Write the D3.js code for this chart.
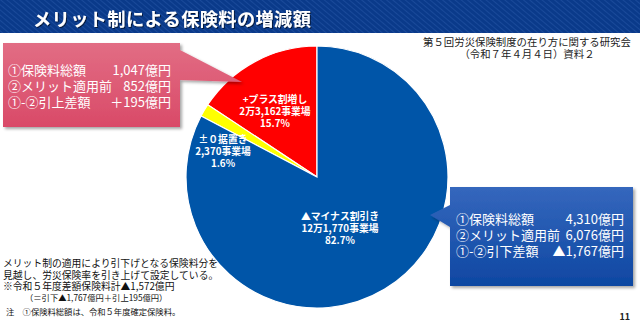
<!DOCTYPE html>
<html><head><meta charset="utf-8">
<script src="https://cdn.jsdelivr.net/npm/d3@7"></script>
<style>
html,body{margin:0;padding:0;background:#fff;}
svg{display:block;font-family:"Noto Sans CJK JP","Noto Sans",sans-serif;}
</style></head>
<body>
<script>
// ---- data ----
const categories = ["+プラス割増し", "±０据置き", "▲マイナス割引き"];
const counts = ["2万3,162事業場", "2,370事業場", "12万1,770事業場"];
const shares = [15.7, 1.6, 82.7];
const sliceColors = ["#ff0000", "#ffff00", "#0055a8"];
const title = "メリット制による保険料の増減額";
const source = ["第５回労災保険制度の在り方に関する研究会", "（令和７年４月４日）資料２"];
const plusLabels = ["①保険料総額", "②メリット適用前", "①-②引上差額"];
const plusValues = ["1,047億円", "852億円", "＋195億円"];
const minusLabels = ["①保険料総額", "②メリット適用前", "①-②引下差額"];
const minusValues = ["4,310億円", "6,076億円", "▲1,767億円"];
const notes = ["メリット制の適用により引下げとなる保険料分を", "見越し、労災保険率を引き上げて設定している。", "※令和５年度差額保険料計▲1,572億円"];
const subNote = "（＝引下▲1,767億円＋引上195億円）";
const footNote = "注　①保険料総額は、令和５年度確定保険料。";
const pageNo = "11";

const W = 640, H = 326;
const svg = d3.select("body").append("svg").attr("width", W).attr("height", H);
const defs = svg.append("defs");

// header pattern
const pat = defs.append("pattern").attr("id","hdr").attr("width",4).attr("height",4)
  .attr("patternUnits","userSpaceOnUse").attr("patternTransform","rotate(-50)");
pat.append("rect").attr("width",4).attr("height",4).attr("fill","#0a3a8a");
pat.append("rect").attr("width",1).attr("height",4).attr("fill","#1a4a9a");

const gRed = defs.append("linearGradient").attr("id","gRed").attr("x1",0).attr("y1",0).attr("x2",0).attr("y2",1);
gRed.append("stop").attr("offset","0%").attr("stop-color","#e26d84");
gRed.append("stop").attr("offset","100%").attr("stop-color","#d94a68");
const gBlue = defs.append("linearGradient").attr("id","gBlue").attr("x1",0).attr("y1",0).attr("x2",0).attr("y2",1);
gBlue.append("stop").attr("offset","0%").attr("stop-color","#3567bd");
gBlue.append("stop").attr("offset","100%").attr("stop-color","#0e47a2");
const sh = defs.append("filter").attr("id","sh").attr("x","-10%").attr("y","-10%").attr("width","130%").attr("height","130%");
sh.append("feDropShadow").attr("dx",2).attr("dy",2).attr("stdDeviation",1.5).attr("flood-color","#000").attr("flood-opacity",0.35);
const tsh = defs.append("filter").attr("id","tsh");
tsh.append("feDropShadow").attr("dx",1).attr("dy",1).attr("stdDeviation",0.6).attr("flood-color","#000").attr("flood-opacity",0.6);

// header
svg.append("rect").attr("x",0).attr("y",0).attr("width",W).attr("height",33).attr("fill","url(#hdr)");
svg.append("text").attr("x",33).attr("y",26).attr("fill","#fff").attr("font-size",18.2)
  .attr("font-weight","bold").attr("letter-spacing",0.4).attr("filter","url(#tsh)").text(title);

// source
svg.append("g").selectAll("text").data(source).join("text")
  .attr("x",527).attr("y",(d,i)=>46+i*12).attr("text-anchor","middle")
  .attr("font-size",10.4).attr("fill","#222").text(d=>d);

// pie
const cx = 317, cy = 177, R = 131;
const pie = d3.pie().sort(null).value(d=>d).startAngle(0).endAngle(-2*Math.PI);
const arcs = pie(shares);
const arc = d3.arc().innerRadius(0).outerRadius(R);
const gp = svg.append("g").attr("transform",`translate(${cx},${cy})`);
gp.selectAll("path").data(arcs).join("path")
  .attr("d",arc).attr("fill",(d,i)=>sliceColors[i]).attr("stroke","#fff").attr("stroke-width",1.2);

// slice labels
const labelPos = [[275,103],[223,143],[340,220]];
const gl = svg.append("g").attr("fill","#fff").attr("font-weight","bold").attr("font-size",9.8).attr("text-anchor","middle");
categories.forEach((c,i)=>{
  [c, counts[i], shares[i].toFixed(1)+"%"].forEach((s,j)=>{
    gl.append("text").attr("x",labelPos[i][0]).attr("y",labelPos[i][1]+j*12.2).text(s);
  });
});

// red callout
svg.append("path").attr("d","M3,43 L180,43 L180,50 L242,82 L180,80 L180,127 L3,127 Z")
  .attr("fill","url(#gRed)").attr("filter","url(#sh)");
const gr = svg.append("g").attr("fill","#fff").attr("font-size",13);
plusLabels.forEach((s,i)=>{
  gr.append("text").attr("x",8).attr("y",75+i*16).text(s);
  gr.append("text").attr("x",171).attr("y",75+i*16).attr("text-anchor","end").text(plusValues[i]);
});

// blue callout
svg.append("path").attr("d","M450,187 L633,187 L633,286 L450,286 L450,227 L430,215 L450,205 Z")
  .attr("fill","url(#gBlue)").attr("filter","url(#sh)");
const gb = svg.append("g").attr("fill","#fff").attr("font-size",13);
minusLabels.forEach((s,i)=>{
  gb.append("text").attr("x",456).attr("y",224+i*16).text(s);
  gb.append("text").attr("x",624).attr("y",224+i*16).attr("text-anchor","end").text(minusValues[i]);
});

// notes
const gn = svg.append("g").attr("fill","#111");
notes.forEach((s,i)=>{
  gn.append("text").attr("x",3).attr("y",267+i*11.7).attr("font-size",9.8).text(s);
});
gn.append("text").attr("x",25).attr("y",301).attr("font-size",8.3).text(subNote);
gn.append("text").attr("x",6).attr("y",315).attr("font-size",8.3).text(footNote);
svg.append("text").attr("x",630).attr("y",320).attr("text-anchor","end").attr("font-size",9)
  .attr("font-weight","bold").attr("fill","#222").text(pageNo);
</script>
</body></html>
